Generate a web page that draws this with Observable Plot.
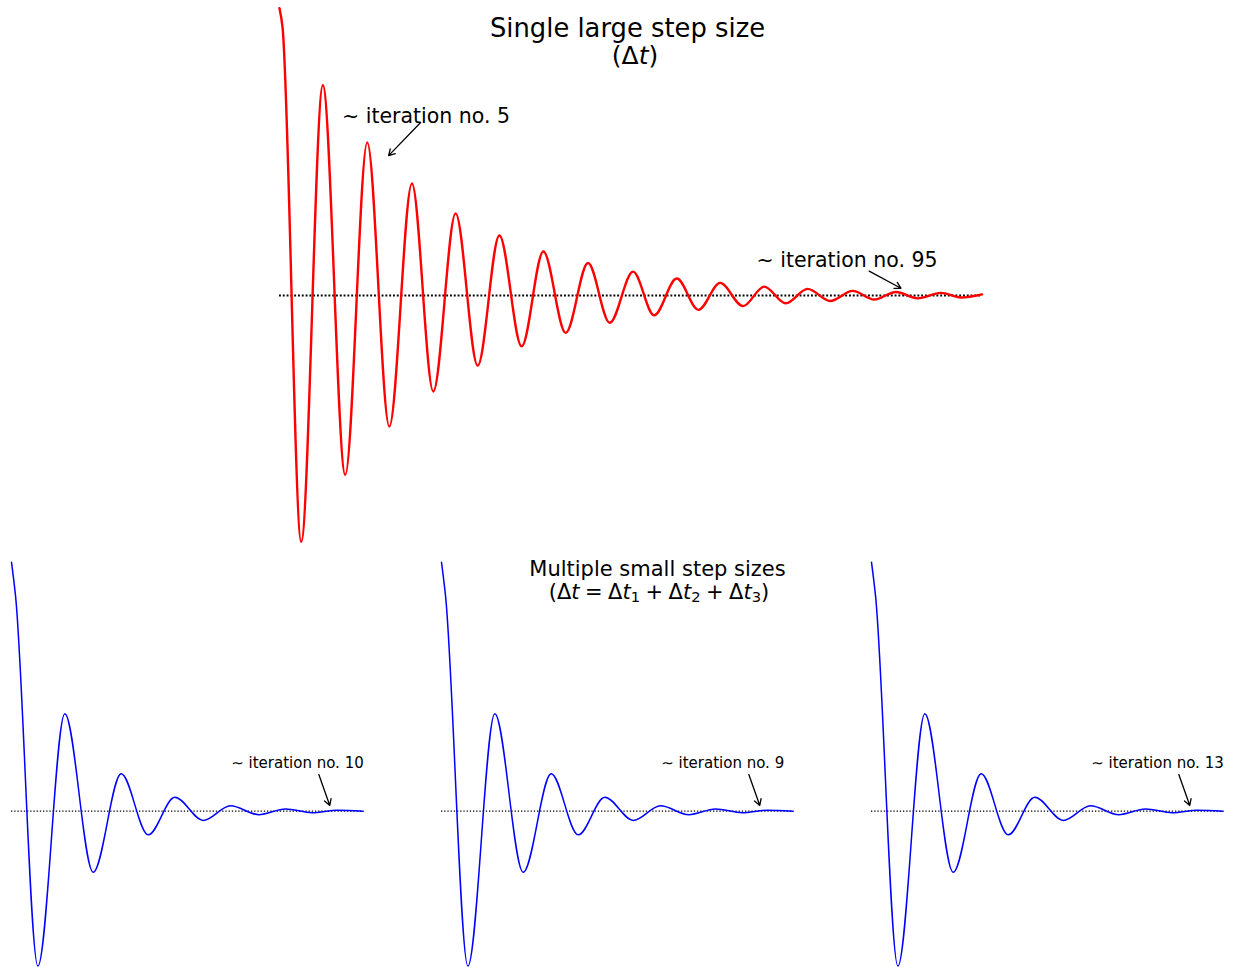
<!DOCTYPE html>
<html>
<head>
<meta charset="utf-8">
<script src="https://cdn.jsdelivr.net/npm/d3@7"></script>
<script src="https://cdn.jsdelivr.net/npm/@observablehq/plot@0.6"></script>
<style>
html, body { margin: 0; padding: 0; background: #fff; }
#fig { position: relative; width: 1238px; height: 967px; overflow: hidden; font-family: "DejaVu Sans", sans-serif; background: #fff; }
.title { position: absolute; white-space: nowrap; transform: translateX(-50%); line-height: 1; color: #000; font-family: "DejaVu Sans", sans-serif; }
.title sub { font-size: 70%; vertical-align: -0.22em; line-height: 0; }
.math { word-spacing: -1.2px; }
</style>
</head>
<body>
<div id="fig">
  <div class="title" style="left:627.5px; top:15.5px; font-size:25.8px;">Single large step size</div>
  <div class="title" style="left:635px; top:43px; font-size:25px;">(Δ<i>t</i>)</div>
  <div class="title" style="left:657.5px; top:558.5px; font-size:21px;">Multiple small step sizes</div>
  <div class="title math" style="left:659px; top:582px; font-size:21px;">(Δ<i>t</i> = Δ<i>t</i><sub>1</sub> + Δ<i>t</i><sub>2</sub> + Δ<i>t</i><sub>3</sub>)</div>
</div>
<script>
// ---- Top panel: single large step (extrema) ----
const redT = [0, 0.43, 3.09, 6.17, 9.36, 12.49, 15.63, 18.85, 21.89, 25.07, 28.21, 31.30,
  34.47, 37.56, 40.74, 43.92, 47.01, 50.33, 53.32, 56.55, 59.64, 62.72, 65.98, 68.99,
  72.08, 75.17, 78.39, 81.58, 84.66, 87.75, 90.84, 94.16, 97.01, 100];
const redV = [1.0, 0.934, -0.857, 0.732, -0.624, 0.533, -0.456, 0.390, -0.334, 0.286, -0.244, 0.209,
  -0.177, 0.153, -0.130, 0.113, -0.095, 0.083, -0.069, 0.059, -0.050, 0.044, -0.037, 0.031,
  -0.027, 0.023, -0.019, 0.016, -0.014, 0.012, -0.010, 0.009, -0.007, 0.004];

// ---- Bottom panels: multiple small steps (same curve in each) ----
const blueT = [0, 1.14, 7.5, 15.16, 23.23, 31.19, 38.87, 46.43, 54.51, 62.27, 70.32, 77.91, 85.50, 92.61, 100];
const blueV = [1.0, 0.866, -0.622, 0.391, -0.245, 0.150, -0.095, 0.056, -0.037, 0.022, -0.014, 0.009, -0.006, 0.004, 0.0];

// ---- Annotations (text anchor and arrow ends, in data units) ----
const topLabels = ["\u223C iteration no. 5", "\u223C iteration no. 95"];
const topTextT = [8.9, 67.9];
const topTextV = [0.623, 0.122];
const topArrowFrom = [[20.09, 0.602], [83.94, 0.0846]];
const topArrowTo = [[15.53, 0.487], [88.46, 0.0254]];

const bottomLabels = ["\u223C iteration no. 10", "\u223C iteration no. 9", "\u223C iteration no. 13"];
const bottomTextT = 62.47, bottomTextV = 0.193;
const bottomArrowFrom = [87.38, 0.1474];
const bottomArrowTo = [90.5, 0.0229];

const fig = document.getElementById("fig");

function panel({t, v, color, lineWidth, xRange, yRange, notes, fontSize, dash, dashWidth}) {
  const data = t.map((d, i) => ({t: d, v: v[i]}));
  const ext = d3.extent(t);
  return Plot.plot({
    width: 1238,
    height: 967,
    margin: 0,
    x: {domain: [0, 100], range: xRange, axis: null},
    y: {domain: [0, 1], range: yRange, axis: null},
    style: {position: "absolute", left: "0px", top: "0px", background: "transparent", overflow: "visible", fontFamily: "DejaVu Sans"},
    marks: [
      Plot.ruleY([{y: 0, x1: ext[0], x2: ext[1]}], {y: "y", x1: "x1", x2: "x2", stroke: "black", strokeWidth: dashWidth, strokeDasharray: dash}),
      Plot.line(data, {x: "t", y: "v", stroke: color, strokeWidth: lineWidth, curve: "monotone-x"}),
      Plot.arrow(notes, {x1: "x1", y1: "y1", x2: "x2", y2: "y2", stroke: "black", strokeWidth: 1.3, headLength: 8}),
      Plot.text(notes, {x: "tx", y: "ty", text: "label", textAnchor: "start", lineAnchor: "middle", fontSize: fontSize, fill: "black", fontFamily: "DejaVu Sans"})
    ]
  });
}

const topNotes = topLabels.map((label, i) => ({
  label, tx: topTextT[i], ty: topTextV[i],
  x1: topArrowFrom[i][0], y1: topArrowFrom[i][1], x2: topArrowTo[i][0], y2: topArrowTo[i][1]
}));

fig.appendChild(panel({
  t: redT, v: redV, color: "#ff0000", lineWidth: 2.4,
  xRange: [279, 981.5], yRange: [295, 7.7],
  notes: topNotes, fontSize: 20.5, dash: "1.9,1.9", dashWidth: 1.9
}));

const offsets = [0, 430, 860];
bottomLabels.forEach((label, i) => {
  const off = offsets[i];
  fig.appendChild(panel({
    t: blueT, v: blueV, color: "#0000ff", lineWidth: 1.5,
    xRange: [11 + off, 362.7 + off], yRange: [810.7, 561.7],
    notes: [{label, tx: bottomTextT, ty: bottomTextV,
      x1: bottomArrowFrom[0], y1: bottomArrowFrom[1], x2: bottomArrowTo[0], y2: bottomArrowTo[1]}],
    fontSize: 15, dash: "1.3,1.9", dashWidth: 1.3
  }));
});
// keep titles above the charts
fig.querySelectorAll(".title").forEach(el => fig.appendChild(el));
</script>
</body>
</html>
